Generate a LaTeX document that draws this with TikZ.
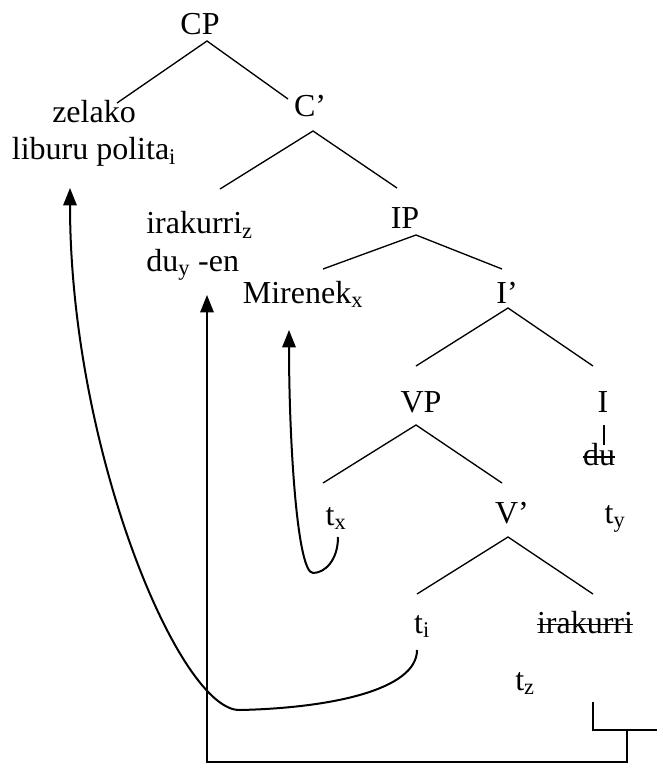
\documentclass[tikz,border=0pt]{standalone}
\usepackage{fontspec}
\setmainfont{Liberation Serif}
\usetikzlibrary{arrows.meta}
\newcommand{\sub}[1]{\textsubscript{#1}}
\tikzset{lbl/.style = {anchor=base, inner sep=0pt, font=\fontsize{24}{28}\selectfont}}
\tikzset{branch/.style = {line width=1pt}}
\tikzset{strike/.style = {line width=1.2pt}}
\tikzset{move/.style = {line width=1.5pt, -{Triangle[length=13pt,width=10pt]}}}

\begin{document}
\begin{tikzpicture}[x=0.75pt,y=-0.75pt]
  \useasboundingbox (0,0) rectangle (657,763);

  % the tree labels
  \node[lbl] (cp) at (200,35) {CP};
  \node[lbl,align=center] (zelako) at (94,160) {zelako\\liburu polita\sub{i}};
  \node[lbl] (cbar) at (310,117) {C’};
  \node[lbl,align=left,anchor=base west] (irak) at (146,271) {irakurri\sub{z}\\du\sub{y} -en};
  \node[lbl] (ip) at (405,228) {IP};
  \node[lbl] (mirenek) at (303,303) {Mirenek\sub{x}};
  \node[lbl] (ibar) at (507,303) {I’};
  \node[lbl] (vp) at (421,412) {VP};
  \node[lbl] (infl) at (603,412) {I};
  \node[lbl] (du) at (599,465) {du};
  \node[lbl] (tx) at (336,525) {t\sub{x}};
  \node[lbl] (vbar) at (512,523) {V’};
  \node[lbl] (ty) at (615,523) {t\sub{y}};
  \node[lbl] (ti) at (422,633) {t\sub{i}};
  \node[lbl] (irakS) at (585,633) {irakurri};
  \node[lbl] (tz) at (525,690) {t\sub{z}};

  % struck-out copies
  \draw[strike] ([yshift=6pt]du.base west) -- ([yshift=6pt]du.base east);
  \draw[strike] ([yshift=6.5pt]irakS.base west) -- ([yshift=6.5pt]irakS.base east);

  % branch points
  \coordinate (cpL) at (117,103); \coordinate (cpA) at (207,41); \coordinate (cpR) at (288,99);
  \coordinate (cbL) at (220,189); \coordinate (cbA) at (313,131); \coordinate (cbR) at (397,188);
  \coordinate (ipL) at (323,269); \coordinate (ipA) at (416,235); \coordinate (ipR) at (502,269);
  \coordinate (ibL) at (416,366); \coordinate (ibA) at (508,308); \coordinate (ibR) at (593,366);
  \coordinate (vpL) at (323,483); \coordinate (vpA) at (416,425); \coordinate (vpR) at (502,483);
  \coordinate (vbL) at (417,594); \coordinate (vbA) at (508,537); \coordinate (vbR) at (593,594);
  \coordinate (inA) at (604,425); \coordinate (inB) at (604,445);

  \draw[branch] (cpL) -- (cpA) -- (cpR);
  \draw[branch] (cbL) -- (cbA) -- (cbR);
  \draw[branch] (ipL) -- (ipA) -- (ipR);
  \draw[branch] (ibL) -- (ibA) -- (ibR);
  \draw[branch] (vpL) -- (vpA) -- (vpR);
  \draw[branch] (vbL) -- (vbA) -- (vbR);
  \draw[branch] (inA) -- (inB);

  % movement arrows
  \coordinate (tiFoot) at (417,650); \coordinate (tiLow) at (240,710); \coordinate (zelTip) at (70,188);
  \coordinate (txFoot) at (338,537); \coordinate (txLow) at (313,573); \coordinate (mirTip) at (289,330);
  \coordinate (vFoot) at (593,702); \coordinate (vKnee) at (593,730); \coordinate (rEdge) at (657,730);
  \coordinate (vJoin) at (627,730); \coordinate (vBot) at (627,761.5); \coordinate (dBot) at (207,761.5);
  \coordinate (duTip) at (207,295);

  \draw[move] (tiFoot) .. controls (417,690) and (330,708) .. (tiLow)
              .. controls (180,712) and (70,450) .. (zelTip);
  \draw[move] (txFoot) .. controls (338,560) and (325,573) .. (txLow)
              .. controls (297,573) and (289,440) .. (mirTip);
  \draw[line width=1.2pt] (vFoot) -- (vKnee) -- (rEdge);
  \draw[move] (vJoin) -- (vBot) -- (dBot) -- (duTip);
\end{tikzpicture}
\end{document}
